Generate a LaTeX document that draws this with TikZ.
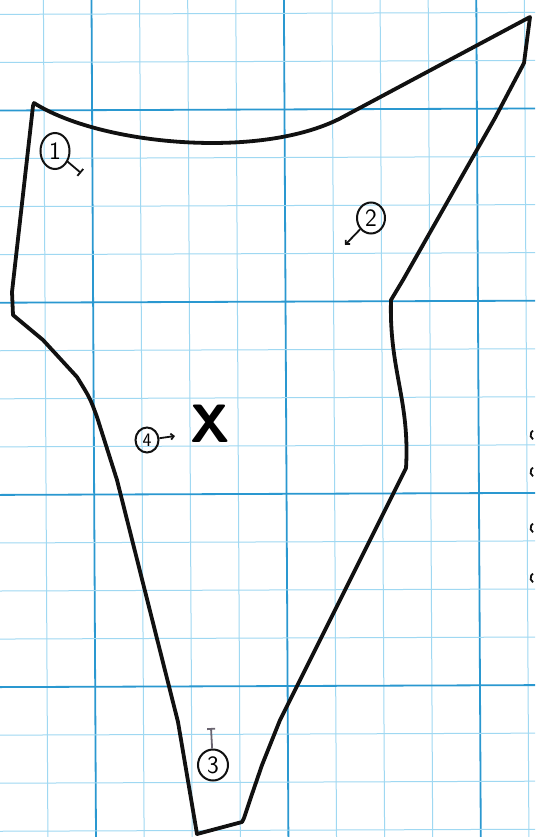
\documentclass[tikz,border=0pt]{standalone}
\usepackage{xcolor}
\definecolor{gridMinor}{HTML}{9FD8F2}
\definecolor{gridMajor}{HTML}{2A98D0}
\definecolor{inkBlack}{HTML}{111111}
\definecolor{inkPencil}{HTML}{6A6470}
\usepackage{tikz}
\usetikzlibrary{arrows.meta,shapes.geometric}

\begin{document}
\begin{tikzpicture}[
  x=1pt, y=-1pt,
  font=\sffamily,
  minor/.style={gridMinor, line width=1pt},
  major/.style={gridMajor, line width=1.8pt},
  outline/.style={inkBlack, line width=3.8pt, line join=round},
  tagmark/.style={draw=inkBlack, ellipse, line width=2pt, inner sep=0pt,
               font=\fontsize{25}{25}\sffamily},
  tail/.style={inkBlack, line width=1.8pt}
]
\useasboundingbox (0,0) rectangle (535,837);
\fill[white] (0,0) rectangle (535,837);

% grid paper
\foreach \k in {-1,...,9}{
  \pgfmathsetmacro\gx{91.5+48.1*\k}
  \pgfmathtruncatemacro\gm{mod(\k+8,4)}
  \ifnum\gm=0 \draw[major] (\gx,0) -- (\gx+4.5,837);
  \else \draw[minor] (\gx,0) -- (\gx+4.5,837); \fi
}
\foreach \j in {-2,...,15}{
  \pgfmathsetmacro\gy{110.5+48.05*\j}
  \pgfmathtruncatemacro\gm{mod(\j+8,4)}
  \ifnum\gm=0 \draw[major] (0,\gy) -- (535,\gy-2);
  \else \draw[minor] (0,\gy) -- (535,\gy-2); \fi
}

% outline
\draw[outline] (34,103) .. controls (100,145) and (260,160) .. (341,118)
  -- (530,17) -- (524,63) -- (495,118) -- (403,280) -- (391,300)
  .. controls (389,370) and (410,400) .. (406,468)
  -- (280,720) -- (262,765) -- (250,800) -- (244,818) -- (242,822)
  -- (197,834) -- (178,722) -- (117,480) -- (97,417)
  .. controls (90,398) .. (77,377)
  -- (43,340) -- (13,315) -- (12,292) -- (33,106) -- cycle;

% marks
\node[tagmark, minimum width=29pt, minimum height=36pt] (one) at (55,151) {1};
\node[tagmark, minimum width=28pt, minimum height=31pt] (two) at (371,218) {2};
\node[tagmark, minimum width=30pt, minimum height=31pt] (three) at (213,765) {3};
\node[tagmark, minimum width=23pt, minimum height=25pt,
      font=\fontsize{19}{19}\sffamily] (four) at (147,440) {4};
\node[font=\fontsize{54}{54}\sffamily\bfseries] (spot) at (210,424) {X};

\coordinate (oneEnd) at (81,173);
\coordinate (twoEnd) at (345,245);
\coordinate (threeEnd) at (211,728);
\coordinate (fourEnd) at (175,436);

% tails
\draw[tail, -{Bar[width=9pt]}] (one) -- (oneEnd);
\draw[tail, -{Straight Barb[length=3pt,width=6pt]}] (two) -- (twoEnd);
\draw[tail, inkPencil, -{Bar[width=8pt]}] (three) -- (threeEnd);
\draw[tail, -{Straight Barb[length=3pt,width=6pt]}] (four) -- (fourEnd);

% cut-off writing at the right edge
\foreach \yy in {435,472,528,578}
  \draw[inkBlack, line width=1.8pt] (533,\yy+4.3) arc[start angle=120, end angle=240, radius=5];
\end{tikzpicture}
\end{document}
